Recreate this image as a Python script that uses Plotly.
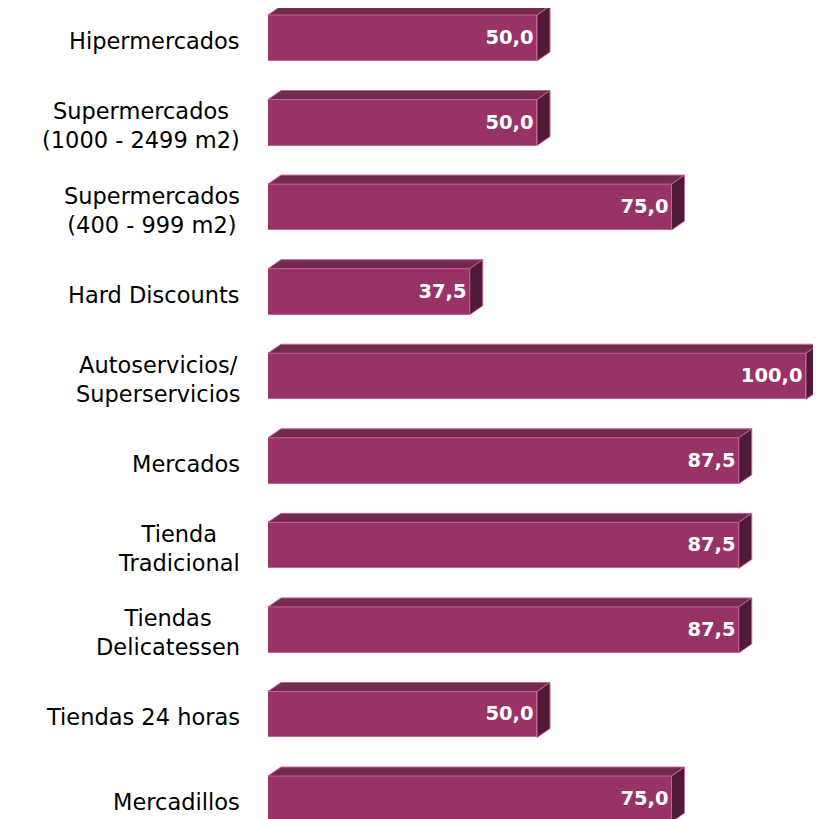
import plotly.graph_objects as go

categories = ["Hipermercados", "Supermercados<br>(1000 - 2499 m2)", "Supermercados<br>(400 - 999 m2)",
              "Hard Discounts", "Autoservicios/<br>Superservicios", "Mercados",
              "Tienda<br>Tradicional", "Tiendas<br>Delicatessen", "Tiendas 24 horas", "Mercadillos"]
values = [50.0, 50.0, 75.0, 37.5, 100.0, 87.5, 87.5, 87.5, 50.0, 75.0]

# page body has an 8px margin, so the figure is sized to the remaining window
W, H = 813, 811
L = 260
px_per_unit = 5.38
row_px = 84.56
first_center = 30
xmax = (W - L) / px_per_unit
y_top = -first_center / row_px
y_bot = (H - first_center) / row_px

bar_h = 46 / row_px
dx = 13 / px_per_unit
dy = 9 / row_px

FRONT = "#993366"
TOP = "#722a4f"
SIDE = "#4f1b37"
EDGE = "#c2619a"

ypos = list(range(len(categories)))
labels = [f"{v:.1f}".replace(".", ",") for v in values]

fig = go.Figure()
fig.add_trace(go.Bar(
    x=values, y=ypos, orientation="h", width=bar_h,
    marker=dict(color=FRONT, line=dict(color=EDGE, width=1)),
    text=labels, textposition="inside", insidetextanchor="end",
    textfont=dict(family="DejaVu Sans", size=19.5, color="white", weight="bold"),
    textangle=0, cliponaxis=False, hoverinfo="skip",
))

for v, y in zip(values, ypos):
    t = y - bar_h / 2
    b = y + bar_h / 2
    fig.add_trace(go.Scatter(
        x=[0, v, v + dx, dx, 0], y=[t, t, t - dy, t - dy, t],
        mode="lines", fill="toself", fillcolor=TOP,
        line=dict(color=EDGE, width=1), hoverinfo="skip", showlegend=False))
    fig.add_trace(go.Scatter(
        x=[v, v + dx, v + dx, v, v], y=[t, t - dy, b - dy, b, t],
        mode="lines", fill="toself", fillcolor=SIDE,
        line=dict(color=EDGE, width=1), hoverinfo="skip", showlegend=False))

annotations = []
for c, y in zip(categories, ypos):
    annotations.append(dict(
        x=0, y=y, xref="x", yref="y", text=c, showarrow=False,
        xanchor="right", yanchor="middle", align="center", xshift=-26, yshift=-3,
        font=dict(family="DejaVu Sans", size=22.5, color="black")))

fig.update_layout(
    width=W, height=H, margin=dict(l=L, r=0, t=0, b=0),
    paper_bgcolor="white", plot_bgcolor="white", showlegend=False,
    annotations=annotations, bargap=0,
    xaxis=dict(range=[0, xmax], visible=False, fixedrange=True),
    yaxis=dict(range=[y_bot, y_top], visible=False, fixedrange=True),
)
fig.write_html("out.html")
